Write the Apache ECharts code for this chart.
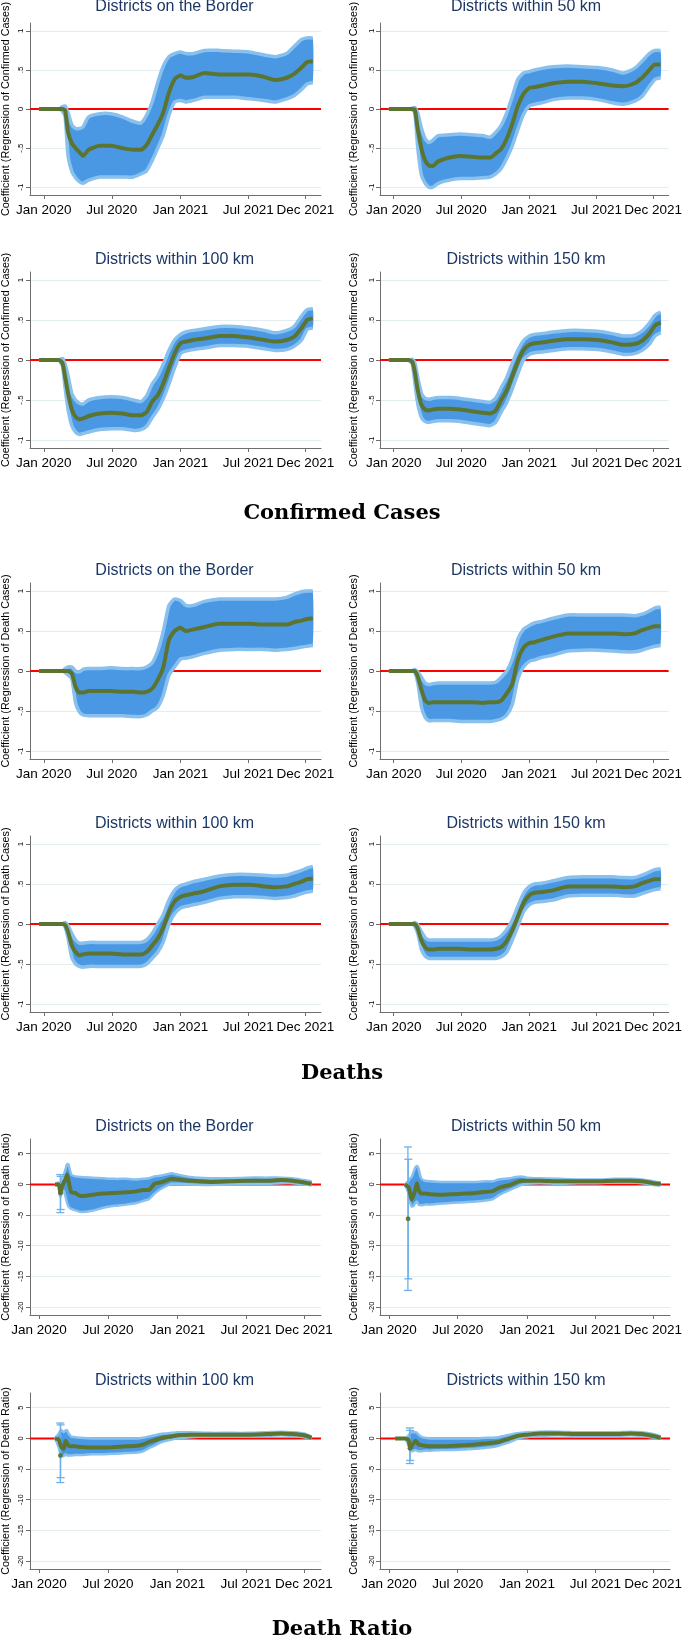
<!DOCTYPE html>
<html><head><meta charset="utf-8">
<script src="https://cdn.jsdelivr.net/npm/echarts@6/dist/echarts.min.js"></script>
<style>html,body{margin:0;padding:0;background:#fff}#c{width:685px;height:1641px}</style>
</head><body><div id="c"></div>
<script>
// ---------- tick labels ----------
const xTickDays = [0, 182, 366, 547, 700];           // days since 1 Jan 2020
const xTickLabels = ['Jan 2020', 'Jul 2020', 'Jan 2021', 'Jul 2021', 'Dec 2021'];
const yTicksCD = [-1, -0.5, 0, 0.5, 1];
const yTickLabelsCD = ['-1', '-.5', '0', '.5', '1'];
const yTicksDR = [-20, -15, -10, -5, 0, 5];
const yTickLabelsDR = ['-20', '-15', '-10', '-5', '0', '5'];

// ---------- Confirmed cases & deaths (days since 1 Jan 2020) ----------
const daysCD = [-13, 0, 20, 40, 50, 57, 65, 75, 85, 95, 105, 120, 150, 180, 210, 240, 260, 275, 290, 305, 320, 335, 350, 366, 380, 400, 430, 470, 510, 550, 590, 620, 650, 670, 690, 705, 720];

const ccBorderCoef = [0,0,0,0,0,-0.02,-0.3,-0.44,-0.5,-0.55,-0.6,-0.52,-0.47,-0.47,-0.5,-0.52,-0.52,-0.46,-0.33,-0.2,-0.04,0.21,0.38,0.43,0.4,0.41,0.46,0.44,0.44,0.44,0.41,0.37,0.4,0.45,0.53,0.6,0.61];
const ccBorderHi   = [0,0,0,0,0.03,0.04,-0.05,-0.2,-0.25,-0.25,-0.23,-0.1,-0.06,-0.06,-0.1,-0.16,-0.18,-0.08,0.09,0.34,0.55,0.67,0.71,0.73,0.71,0.71,0.75,0.75,0.74,0.73,0.69,0.67,0.71,0.8,0.89,0.91,0.91];
const ccBorderLo   = [0,0,0,0,-0.03,-0.1,-0.6,-0.8,-0.88,-0.93,-0.95,-0.91,-0.87,-0.87,-0.87,-0.87,-0.83,-0.79,-0.66,-0.5,-0.33,-0.08,0.09,0.11,0.09,0.11,0.15,0.15,0.15,0.13,0.11,0.09,0.13,0.17,0.25,0.32,0.34];

const cc50Coef = [0,0,0,0,0,-0.01,-0.26,-0.51,-0.66,-0.72,-0.73,-0.67,-0.62,-0.6,-0.61,-0.62,-0.62,-0.57,-0.51,-0.38,-0.19,0.04,0.19,0.27,0.28,0.3,0.33,0.35,0.35,0.33,0.3,0.29,0.33,0.4,0.5,0.57,0.57];
const cc50Hi   = [0,0,0,0,0.01,0.02,-0.05,-0.25,-0.38,-0.43,-0.4,-0.34,-0.33,-0.32,-0.33,-0.34,-0.36,-0.3,-0.21,-0.05,0.16,0.38,0.46,0.48,0.5,0.52,0.54,0.55,0.54,0.53,0.5,0.46,0.52,0.61,0.71,0.75,0.75];
const cc50Lo   = [0,0,0,0,-0.01,-0.05,-0.5,-0.85,-0.95,-1.0,-1.0,-0.95,-0.91,-0.89,-0.89,-0.88,-0.87,-0.83,-0.76,-0.63,-0.47,-0.26,-0.07,0.04,0.06,0.08,0.12,0.14,0.14,0.12,0.08,0.06,0.1,0.16,0.29,0.38,0.4];

const cc100Coef = [0,0,0,0,-0.04,-0.21,-0.42,-0.62,-0.71,-0.74,-0.73,-0.7,-0.67,-0.66,-0.67,-0.69,-0.69,-0.65,-0.52,-0.44,-0.29,-0.1,0.08,0.21,0.23,0.25,0.27,0.3,0.3,0.28,0.25,0.23,0.25,0.29,0.4,0.5,0.52];
const cc100Hi   = [0,0,0,0,0.02,-0.05,-0.2,-0.42,-0.5,-0.54,-0.55,-0.5,-0.47,-0.46,-0.47,-0.5,-0.52,-0.45,-0.3,-0.2,-0.05,0.12,0.25,0.32,0.35,0.37,0.39,0.42,0.42,0.4,0.37,0.34,0.37,0.42,0.55,0.63,0.64];
const cc100Lo   = [0,0,0,0,-0.08,-0.35,-0.62,-0.82,-0.9,-0.93,-0.92,-0.9,-0.87,-0.86,-0.86,-0.88,-0.87,-0.83,-0.72,-0.62,-0.48,-0.3,-0.1,0.08,0.11,0.13,0.15,0.18,0.18,0.17,0.14,0.12,0.13,0.17,0.25,0.38,0.4];

const cc150Coef = [0,0,0,0,-0.02,-0.15,-0.38,-0.56,-0.62,-0.63,-0.62,-0.61,-0.61,-0.62,-0.64,-0.66,-0.67,-0.63,-0.5,-0.38,-0.2,-0.02,0.12,0.19,0.21,0.22,0.24,0.26,0.26,0.25,0.22,0.19,0.2,0.24,0.33,0.43,0.47];
const cc150Hi   = [0,0,0,0,0.01,-0.03,-0.22,-0.42,-0.48,-0.49,-0.48,-0.47,-0.47,-0.48,-0.5,-0.52,-0.53,-0.48,-0.35,-0.22,-0.04,0.12,0.24,0.3,0.32,0.33,0.35,0.37,0.37,0.36,0.33,0.3,0.31,0.36,0.46,0.56,0.6];
const cc150Lo   = [0,0,0,0,-0.05,-0.28,-0.55,-0.72,-0.77,-0.78,-0.77,-0.76,-0.76,-0.77,-0.79,-0.81,-0.82,-0.78,-0.65,-0.53,-0.36,-0.17,0.0,0.07,0.09,0.1,0.12,0.14,0.14,0.13,0.1,0.07,0.08,0.12,0.2,0.3,0.34];

const dBorderCoef = [0,0,0,0,0,0,0,-0.03,-0.2,-0.27,-0.27,-0.25,-0.25,-0.25,-0.26,-0.26,-0.27,-0.26,-0.22,-0.11,0.05,0.39,0.5,0.54,0.5,0.52,0.55,0.59,0.59,0.59,0.58,0.58,0.58,0.61,0.63,0.65,0.66];
const dBorderHi   = [0,0,0,0,0,0.03,0.05,0.05,0.0,-0.01,0.02,0.03,0.03,0.04,0.03,0.03,0.03,0.05,0.1,0.25,0.5,0.82,0.9,0.88,0.82,0.82,0.87,0.9,0.9,0.9,0.9,0.9,0.92,0.96,0.99,1.0,1.0];
const dBorderLo   = [0,0,0,0,0,-0.02,-0.05,-0.1,-0.4,-0.51,-0.55,-0.56,-0.56,-0.56,-0.56,-0.57,-0.57,-0.55,-0.5,-0.45,-0.3,-0.05,0.05,0.15,0.16,0.18,0.22,0.26,0.27,0.27,0.27,0.26,0.27,0.28,0.3,0.31,0.32];

const d50Coef = [0,0,0,0,0,0,-0.07,-0.24,-0.37,-0.4,-0.39,-0.39,-0.39,-0.39,-0.39,-0.4,-0.39,-0.39,-0.37,-0.28,-0.16,0.14,0.29,0.35,0.36,0.39,0.43,0.47,0.47,0.47,0.47,0.46,0.47,0.51,0.54,0.56,0.56];
const d50Hi   = [0,0,0,0,0,0.02,-0.01,-0.08,-0.15,-0.17,-0.16,-0.15,-0.15,-0.15,-0.15,-0.15,-0.15,-0.14,-0.08,0.0,0.15,0.4,0.52,0.57,0.6,0.62,0.66,0.7,0.7,0.7,0.7,0.7,0.69,0.71,0.75,0.79,0.8];
const d50Lo   = [0,0,0,0,0,-0.02,-0.15,-0.45,-0.58,-0.62,-0.62,-0.62,-0.62,-0.63,-0.63,-0.63,-0.63,-0.62,-0.6,-0.55,-0.42,-0.1,0.05,0.12,0.14,0.17,0.2,0.25,0.26,0.26,0.25,0.24,0.24,0.26,0.29,0.31,0.32];

const d100Coef = [0,0,0,0,0,-0.01,-0.1,-0.27,-0.35,-0.39,-0.38,-0.37,-0.37,-0.37,-0.38,-0.38,-0.38,-0.35,-0.27,-0.18,-0.04,0.15,0.28,0.34,0.36,0.38,0.41,0.47,0.49,0.49,0.47,0.46,0.47,0.5,0.53,0.56,0.57];
const d100Hi   = [0,0,0,0,0,0.02,-0.02,-0.12,-0.2,-0.24,-0.24,-0.23,-0.23,-0.23,-0.23,-0.23,-0.23,-0.2,-0.12,0.0,0.12,0.3,0.42,0.48,0.5,0.53,0.56,0.6,0.62,0.62,0.61,0.6,0.61,0.64,0.67,0.7,0.72];
const d100Lo   = [0,0,0,0,0,-0.04,-0.18,-0.42,-0.5,-0.53,-0.54,-0.53,-0.53,-0.53,-0.53,-0.53,-0.53,-0.5,-0.43,-0.35,-0.22,0.0,0.13,0.2,0.22,0.24,0.27,0.32,0.34,0.34,0.33,0.32,0.33,0.35,0.38,0.4,0.41];

const d150Coef = [0,0,0,0,0,0,-0.06,-0.21,-0.29,-0.32,-0.32,-0.31,-0.31,-0.31,-0.32,-0.32,-0.32,-0.31,-0.29,-0.21,-0.08,0.09,0.26,0.36,0.39,0.4,0.42,0.47,0.47,0.47,0.47,0.46,0.47,0.51,0.54,0.56,0.56];
const d150Hi   = [0,0,0,0,0,0.02,-0.01,-0.1,-0.17,-0.2,-0.2,-0.2,-0.2,-0.2,-0.2,-0.2,-0.2,-0.19,-0.15,-0.07,0.05,0.22,0.38,0.47,0.5,0.51,0.54,0.58,0.59,0.59,0.59,0.58,0.58,0.61,0.65,0.68,0.69];
const d150Lo   = [0,0,0,0,0,-0.03,-0.12,-0.32,-0.4,-0.43,-0.43,-0.43,-0.43,-0.43,-0.43,-0.43,-0.43,-0.43,-0.41,-0.35,-0.2,-0.03,0.15,0.24,0.27,0.28,0.3,0.35,0.36,0.36,0.36,0.35,0.35,0.38,0.41,0.43,0.44];

// ---------- Death ratio ----------
const daysDR = [16, 30, 42, 52, 56, 60, 65, 70, 74, 78, 85, 95, 110, 140, 170, 200, 230, 260, 275, 290, 305, 320, 335, 350, 366, 400, 450, 500, 550, 600, 640, 670, 700, 720];

const drBorderCoef = [null,null,0,0,-1.4,-0.5,0.3,0.8,1.6,0.5,-1.3,-1.4,-1.9,-1.7,-1.5,-1.4,-1.3,-1.1,-0.9,-0.9,0.1,0.3,0.6,0.9,0.8,0.6,0.4,0.5,0.6,0.6,0.7,0.6,0.3,0.1];
const drBorderHi   = [null,null,0,0.3,-0.8,0.8,1.5,2.5,3.3,3.2,1.6,1.3,1.2,1.1,1.0,0.9,0.9,0.8,0.9,1.0,1.3,1.4,1.6,1.8,1.6,1.2,1.0,1.0,1.1,1.1,1.1,1.0,0.7,0.5];
const drBorderLo   = [null,null,0,-0.3,-2.0,-1.5,-1.0,-2.0,-3.0,-3.6,-4.0,-4.2,-4.5,-4.3,-3.8,-3.5,-3.3,-3.0,-2.7,-2.4,-1.5,-0.8,-0.3,0.1,0.1,0.0,-0.1,0.0,0.1,0.1,0.2,0.2,0.0,-0.2];
const drBorderSpikes = [[56, -1.4, -4.6, 1.6], [57, -1.4, -4.1, 1.3]];   // [day, coef, lo, hi]

const dr50Coef = [null,null,0,-0.5,-1.5,-2.5,-1.8,-0.8,0.2,-0.8,-1.5,-1.5,-1.6,-1.7,-1.6,-1.5,-1.4,-1.2,-1.1,-0.6,-0.3,-0.1,0.3,0.6,0.6,0.6,0.5,0.5,0.5,0.6,0.6,0.5,0.2,0.1];
const dr50Hi   = [null,null,0,0.6,1.0,1.2,2.0,2.8,3.0,2.6,1.0,0.6,0.5,0.4,0.4,0.4,0.4,0.5,0.5,0.8,0.9,1.0,1.2,1.3,1.1,1.0,0.9,0.8,0.8,0.9,0.9,0.8,0.5,0.3];
const dr50Lo   = [null,null,0,-1.5,-3.0,-3.6,-3.5,-3.0,-2.8,-3.3,-3.4,-3.3,-3.3,-3.1,-3.0,-2.9,-2.8,-2.6,-2.4,-1.8,-1.3,-0.9,-0.5,-0.1,0.1,0.2,0.1,0.2,0.2,0.3,0.3,0.2,-0.1,-0.2];
const dr50Spikes = [[50, -5.6, -17.3, 6.1], [51, -5.6, -15.4, 4.1]];

const dr100Coef = [null,null,0,-0.2,-1.0,-1.5,-1.7,-0.4,-0.8,-1.2,-1.3,-1.3,-1.4,-1.5,-1.5,-1.4,-1.3,-1.2,-1.0,-0.6,-0.3,0.0,0.2,0.3,0.5,0.6,0.6,0.6,0.6,0.7,0.8,0.7,0.5,0.1];
const dr100Hi   = [null,null,0,0.8,1.2,1.3,1.0,1.3,1.3,0.8,0.3,0.2,0.1,0.0,0.0,0.0,0.0,0.0,0.1,0.3,0.5,0.7,0.8,0.9,1.0,1.0,0.9,0.9,0.9,1.0,1.1,1.0,0.8,0.3];
const dr100Lo   = [null,null,0,-1.5,-2.5,-2.8,-2.9,-2.6,-2.8,-2.8,-2.8,-2.7,-2.7,-2.6,-2.6,-2.5,-2.4,-2.3,-2.1,-1.6,-1.2,-0.7,-0.4,-0.2,0.0,0.2,0.3,0.3,0.3,0.4,0.5,0.4,0.2,-0.1];
const dr100Spikes = [[56, -2.8, -7.2, 2.5], [57, -2.8, -6.4, 2.2]];

const dr150Coef = [0,0,0,-0.3,-1.6,-1.2,-0.8,-0.4,-0.6,-1.0,-1.1,-1.2,-1.3,-1.3,-1.2,-1.1,-1.0,-0.8,-0.7,-0.6,-0.3,0.0,0.3,0.5,0.6,0.8,0.8,0.7,0.7,0.7,0.8,0.7,0.4,0.1];
const dr150Hi   = [0,0,0,0.5,0.9,1.0,1.0,1.0,0.9,0.6,0.3,0.1,0.0,0.0,0.0,0.0,0.0,0.1,0.1,0.2,0.4,0.6,0.8,0.9,1.0,1.1,1.1,1.0,1.0,1.0,1.1,1.0,0.7,0.3];
const dr150Lo   = [0,0,0,-1.2,-2.0,-2.1,-2.0,-1.9,-2.0,-2.1,-2.1,-2.0,-2.0,-1.9,-1.9,-1.8,-1.7,-1.5,-1.4,-1.2,-0.9,-0.6,-0.2,0.1,0.2,0.4,0.5,0.4,0.4,0.4,0.5,0.4,0.1,-0.1];
const dr150Spikes = [[55, -1.6, -4.1, 1.7], [56, -1.6, -3.6, 1.3]];

// ---------- styling / layout ----------
const FONT = '"Liberation Sans", Arial, Helvetica, sans-serif';
const C_FILL = '#4A98E4', C_FRINGE = '#88C0EE', C_GREEN = '#5B7530', C_RED = '#FF0000';
const C_GRID = '#E3ECEF', C_AXIS = '#6E6E6E', C_TITLE = '#1C3766';
const SMOOTH = 0.2;
const COLS = [{left: 28, width: 293, cx: 174.5, nameGap: 18, labMargin: 5},
              {left: 380, width: 292, cx: 526, nameGap: 20, labMargin: 4}];
const ROW_TOPS = [19, 272, 583, 836, 1139, 1393];
const H = 176;

const SECT = {
  cc: {xmin: -37, xmax: 742, ymin: -1.1, ymax: 1.1, ticks: yTicksCD, labels: yTickLabelsCD, days: daysCD,
       yname: 'Coefficient (Regression of Confirmed Cases)', labSize: 8, fringe: 3.5},
  d:  {xmin: -37, xmax: 742, ymin: -1.1, ymax: 1.1, ticks: yTicksCD, labels: yTickLabelsCD, days: daysCD,
       yname: 'Coefficient (Regression of Death Cases)', labSize: 8, fringe: 3.5},
  dr: {xmin: -24, xmax: 745, ymin: -21.3, ymax: 7.4, ticks: yTicksDR, labels: yTickLabelsDR, days: daysDR,
       yname: 'Coefficient (Regression of Death Ratio)', labSize: 7.5, fringe: 2.5}
};

const panels = [
  ['Districts on the Border', 'cc', ccBorderCoef, ccBorderLo, ccBorderHi, null],
  ['Districts within 50 km',  'cc', cc50Coef, cc50Lo, cc50Hi, null],
  ['Districts within 100 km', 'cc', cc100Coef, cc100Lo, cc100Hi, null],
  ['Districts within 150 km', 'cc', cc150Coef, cc150Lo, cc150Hi, null],
  ['Districts on the Border', 'd', dBorderCoef, dBorderLo, dBorderHi, null],
  ['Districts within 50 km',  'd', d50Coef, d50Lo, d50Hi, null],
  ['Districts within 100 km', 'd', d100Coef, d100Lo, d100Hi, null],
  ['Districts within 150 km', 'd', d150Coef, d150Lo, d150Hi, null],
  ['Districts on the Border', 'dr', drBorderCoef, drBorderLo, drBorderHi, drBorderSpikes],
  ['Districts within 50 km',  'dr', dr50Coef, dr50Lo, dr50Hi, dr50Spikes],
  ['Districts within 100 km', 'dr', dr100Coef, dr100Lo, dr100Hi, dr100Spikes],
  ['Districts within 150 km', 'dr', dr150Coef, dr150Lo, dr150Hi, dr150Spikes]
];

function lookupLabel(ticks, labels, v) {
  for (let i = 0; i < ticks.length; i++) if (Math.abs(ticks[i] - v) < 1e-6) return labels[i];
  return '';
}

const grids = [], xAxes = [], yAxes = [], series = [], graphics = [];

panels.forEach((p, i) => {
  const [title, sk, coef, lo, hi, spikes] = p;
  const S = SECT[sk];
  const row = Math.floor(i / 2), col = COLS[i % 2];
  const top = ROW_TOPS[row];
  grids.push({left: col.left, top: top, width: col.width, height: H, containLabel: false});
  xAxes.push({
    type: 'value', gridIndex: i, min: S.xmin, max: S.xmax,
    axisLine: {show: true, onZero: false, lineStyle: {color: C_AXIS, width: 1}},
    axisTick: {show: true, inside: false, length: 4, customValues: xTickDays, lineStyle: {color: C_AXIS}},
    axisLabel: {customValues: xTickDays, formatter: v => lookupLabel(xTickDays, xTickLabels, v),
                fontSize: 13.5, color: '#000', margin: 8, fontFamily: FONT},
    splitLine: {show: false}
  });
  yAxes.push({
    type: 'value', gridIndex: i, min: S.ymin, max: S.ymax,
    axisLine: {show: true, onZero: false, lineStyle: {color: C_AXIS, width: 1}},
    axisTick: {show: true, inside: false, length: 4, customValues: S.ticks, lineStyle: {color: C_AXIS}},
    axisLabel: {customValues: S.ticks, rotate: 90, formatter: v => lookupLabel(S.ticks, S.labels, v),
                fontSize: S.labSize, color: '#000', margin: col.labMargin, fontFamily: FONT},
    splitLine: {show: false},
    name: S.yname, nameLocation: 'middle', nameRotate: 90, nameGap: col.nameGap,
    nameTextStyle: {fontSize: 10.8, color: '#000', fontFamily: FONT}
  });

  const days = S.days;
  const pts = arr => days.map((d, k) => [d, arr[k] == null ? null : arr[k]]);
  const gridVals = S.ticks.filter(v => v !== 0);

  // zero reference line + light grid lines
  series.push({
    type: 'line', xAxisIndex: i, yAxisIndex: i, z: 1, silent: true, symbol: 'none',
    data: [[S.xmin, 0], [S.xmax, 0]],
    lineStyle: {color: C_RED, width: 2},
    markLine: {z: 0, silent: true, symbol: 'none', label: {show: false},
               lineStyle: {color: C_GRID, width: 1, type: 'solid'},
               data: gridVals.map(v => ({yAxis: v}))}
  });
  // confidence band drawn through the axis scales
  series.push({
    type: 'custom', xAxisIndex: i, yAxisIndex: i, z: 3, silent: true,
    data: [[days[0], 0]], encode: {x: 0, y: 1},
    renderItem: (params, api) => {
      const up = [], dn = [];
      days.forEach((d, k) => {
        if (lo[k] == null || hi[k] == null) return;
        up.push(api.coord([d, hi[k]]));
        dn.push(api.coord([d, lo[k]]));
      });
      const edge = {stroke: C_FRINGE, lineWidth: S.fringe, fill: null, lineJoin: 'round'};
      return {type: 'group', children: [
        {type: 'polygon', shape: {points: up.concat(dn.slice().reverse()), smooth: SMOOTH},
         style: {fill: C_FILL, stroke: null}},
        {type: 'polyline', shape: {points: up, smooth: SMOOTH}, style: edge},
        {type: 'polyline', shape: {points: dn, smooth: SMOOTH}, style: edge}
      ]};
    }
  });
  if (spikes) {
    series.push({
      type: 'custom', xAxisIndex: i, yAxisIndex: i, z: 5, silent: true,
      data: spikes, encode: {x: 0, y: [2, 3]},
      renderItem: (params, api) => {
        const x = api.value(0);
        const a = api.coord([x, api.value(2)]), b = api.coord([x, api.value(3)]);
        const st = {stroke: '#6CB0EC', lineWidth: 1.3};
        return {type: 'group', children: [
          {type: 'line', shape: {x1: a[0], y1: a[1], x2: b[0], y2: b[1]}, style: st},
          {type: 'line', shape: {x1: a[0] - 4, y1: a[1], x2: a[0] + 4, y2: a[1]}, style: st},
          {type: 'line', shape: {x1: b[0] - 4, y1: b[1], x2: b[0] + 4, y2: b[1]}, style: st}
        ]};
      }
    });
    series.push({
      type: 'scatter', xAxisIndex: i, yAxisIndex: i, z: 7, silent: true,
      data: spikes.map(s => [s[0], s[1]]), symbolSize: 4.5, itemStyle: {color: C_GREEN}
    });
  }
  // coefficient line
  series.push({
    type: 'line', xAxisIndex: i, yAxisIndex: i, z: 6, silent: true, symbol: 'none', smooth: SMOOTH,
    data: pts(coef), lineStyle: {color: C_GREEN, width: 4}
  });

  graphics.push({
    type: 'text', x: col.cx, y: top - 12, silent: true,
    style: {text: title, fill: C_TITLE, font: '16px ' + FONT,
            align: 'center', verticalAlign: 'middle', textAlign: 'center', textVerticalAlign: 'middle'}
  });
});

[['Confirmed Cases', 514], ['Deaths', 1074], ['Death Ratio', 1630]].forEach(([t, y]) => {
  graphics.push({
    type: 'text', x: 342, y: y, silent: true,
    style: {text: t, fill: '#000', font: 'bold 21px "DejaVu Serif", "Liberation Serif", serif',
            align: 'center', verticalAlign: 'middle', textAlign: 'center', textVerticalAlign: 'middle'}
  });
});

const chart = echarts.init(document.getElementById('c'), null, {renderer: 'canvas'});
chart.setOption({
  animation: false,
  backgroundColor: '#fff',
  grid: grids, xAxis: xAxes, yAxis: yAxes, series: series,
  graphic: {elements: graphics}
});
</script>
</body></html>
